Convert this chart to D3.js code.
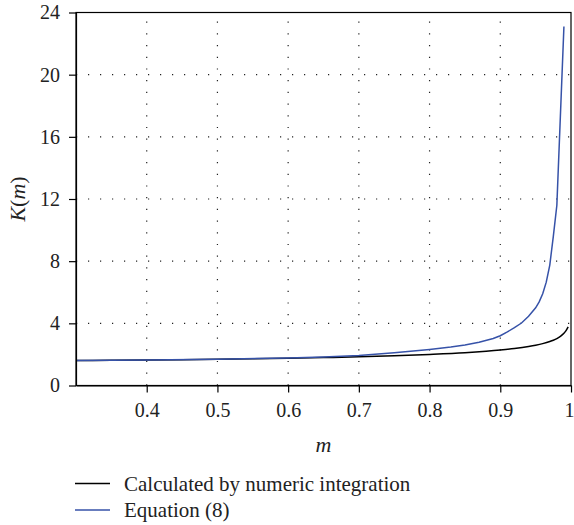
<!DOCTYPE html>
<html>
<head>
<meta charset="utf-8">
<script src="https://cdn.jsdelivr.net/npm/d3@7"></script>
<style>
  body { margin: 0; background: #fff; }
  svg { display: block; }
  svg text { font-family: "Liberation Serif", "DejaVu Serif", serif !important; }
</style>
</head>
<body>
<div id="chart"></div>
<script>
// K(m) vs m: numeric integration and Equation (8)
const mNumeric = [0.3, 0.35, 0.4, 0.45, 0.5, 0.55, 0.6, 0.65, 0.7, 0.75, 0.8, 0.85, 0.88, 0.9,
  0.92, 0.94, 0.95, 0.96, 0.97, 0.975, 0.98, 0.985, 0.99, 0.993, 0.996];
const kNumeric = [1.608, 1.622, 1.640, 1.661, 1.686, 1.715, 1.751, 1.794, 1.846, 1.911, 1.995, 2.105, 2.202, 2.281,
  2.378, 2.507, 2.590, 2.693, 2.828, 2.914, 3.021, 3.159, 3.356, 3.531, 3.77];

const mEq8 = [0.3, 0.4, 0.5, 0.6, 0.65, 0.7, 0.75, 0.8, 0.83, 0.85, 0.87, 0.89, 0.9, 0.91,
  0.92, 0.93, 0.94, 0.95, 0.955, 0.96, 0.965, 0.97, 0.975, 0.98, 0.99];
const kEq8 = [1.61, 1.64, 1.69, 1.77, 1.83, 1.93, 2.11, 2.32, 2.47, 2.60, 2.78, 3.02, 3.20, 3.45,
  3.72, 4.02, 4.45, 5.00, 5.38, 5.90, 6.65, 7.75, 9.60, 11.6, 23.1];

const xTicks = [0.4, 0.5, 0.6, 0.7, 0.8, 0.9, 1];
const yTicks = [0, 4, 8, 12, 16, 20, 24];
const seriesNames = ["Calculated by numeric integration", "Equation (8)"];

(function () {
  const width = 574, height = 525;
  const margin = { top: 12.5, right: 3, bottom: 139.5, left: 76 };
  const iw = width - margin.left - margin.right;
  const ih = height - margin.top - margin.bottom;
  const blue = "#3652a8";

  const svg = d3.select("#chart").append("svg")
    .attr("width", width).attr("height", height);

  const g = svg.append("g").attr("transform", `translate(${margin.left},${margin.top})`);

  const x = d3.scaleLinear().domain([0.3, 1]).range([0, iw]);
  const y = d3.scaleLinear().domain([0, 24]).range([ih, 0]);

  // dotted grid
  g.append("g").selectAll("line")
    .data(xTicks.filter((d) => d < 1))
    .join("line")
    .attr("x1", (d) => x(d)).attr("x2", (d) => x(d))
    .attr("y1", ih).attr("y2", 0)
    .attr("stroke", "#222").attr("stroke-width", 1.2)
    .attr("stroke-dasharray", "1.2,10.5");

  g.append("g").selectAll("line")
    .data(yTicks.filter((d) => d > 0 && d < 24))
    .join("line")
    .attr("x1", 0).attr("x2", iw)
    .attr("y1", (d) => y(d)).attr("y2", (d) => y(d))
    .attr("stroke", "#222").attr("stroke-width", 1.2)
    .attr("stroke-dasharray", "1.2,10.8");

  // curves
  const numeric = mNumeric.map((m, i) => [m, kNumeric[i]]);
  const eq8 = mEq8.map((m, i) => [m, kEq8[i]]);

  g.append("path")
    .datum(numeric)
    .attr("fill", "none").attr("stroke", "#000").attr("stroke-width", 1.5)
    .attr("d", d3.line().x((d) => x(d[0])).y((d) => y(d[1])).curve(d3.curveMonotoneX));

  g.append("path")
    .datum(eq8)
    .attr("fill", "none").attr("stroke", blue).attr("stroke-width", 1.5)
    .attr("d", d3.line().x((d) => x(d[0])).y((d) => y(d[1])));

  // frame
  g.append("rect")
    .attr("x", 0).attr("y", 0).attr("width", iw).attr("height", ih)
    .attr("fill", "none").attr("stroke", "#000").attr("stroke-width", 1.2);

  const xAxis = g.append("g")
    .attr("transform", `translate(0,${ih})`)
    .call(d3.axisBottom(x).tickValues(xTicks).tickSizeInner(7).tickSizeOuter(0).tickPadding(10)
      .tickFormat((d) => (d === 1 ? "1" : d3.format(".1f")(d))));

  const yAxis = g.append("g")
    .call(d3.axisLeft(y).tickValues(yTicks).tickSizeInner(7).tickSizeOuter(0).tickPadding(9)
      .tickFormat(d3.format("d")));

  [xAxis, yAxis].forEach((a) => {
    a.attr("font-size", 20);
    a.select(".domain").attr("stroke", "#000").attr("stroke-width", 1.2);
    a.selectAll(".tick line").attr("stroke", "#000").attr("stroke-width", 1.2);
    a.selectAll(".tick text").attr("fill", "#222");
  });
  xAxis.selectAll(".tick text").attr("dy", "0.71em");
  // last label sits on the right edge
  xAxis.selectAll(".tick text").filter((d) => d === 1).attr("text-anchor", "end").attr("dx", 3);

  // axis titles
  svg.append("text")
    .attr("x", margin.left + iw / 2).attr("y", 452)
    .attr("text-anchor", "middle")
    .attr("font-size", 22).attr("font-style", "italic").attr("fill", "#222")
    .text("m");

  const yl = svg.append("text")
    .attr("transform", `translate(25,${margin.top + ih / 2}) rotate(-90)`)
    .attr("text-anchor", "middle")
    .attr("font-size", 22).attr("fill", "#222");
  yl.append("tspan").attr("font-style", "italic").text("K");
  yl.append("tspan").text("(");
  yl.append("tspan").attr("font-style", "italic").text("m");
  yl.append("tspan").text(")");

  // legend
  const legend = svg.append("g").attr("transform", "translate(75,483.5)");
  const legendColors = ["#000", blue];
  legend.selectAll("g")
    .data(seriesNames)
    .join("g")
    .attr("transform", (d, i) => `translate(0,${i * 26.5})`)
    .call((item) => {
      item.append("line")
        .attr("x1", 0).attr("x2", 35)
        .attr("stroke", (d, i) => legendColors[i])
        .attr("stroke-width", 1.5);
      item.append("text")
        .attr("x", 49).attr("y", 7.3)
        .attr("font-size", 21).attr("fill", "#222")
        .text((d) => d);
    });
})();
</script>
</body>
</html>
